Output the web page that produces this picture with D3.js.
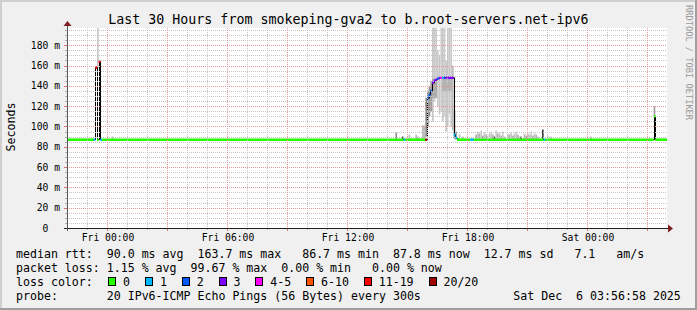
<!DOCTYPE html>
<html>
<head>
<meta charset="utf-8">
<script src="https://cdn.jsdelivr.net/npm/d3@7"></script>
<style>
  body { margin: 0; background: #f0f0f0; }
  svg text { font-family: "DejaVu Sans Mono", monospace; white-space: pre; }
</style>
</head>
<body>
<div id="chart"></div>
<script>
// Textos y valores
const title = "Last 30 Hours from smokeping-gva2 to b.root-servers.net-ipv6";
const yLabel = "Seconds";
const timeStart = "04 22:00";
const timeEnd = "06 04:00";
const yMax = 197;
const yTicks = [0, 20, 40, 60, 80, 100, 120, 140, 160, 180];

// mediana: [hora, ms, pings perdidos de 20]
const median = [
  ["04 22:00", 87, 0],
  ["04 23:20", 87, 1],
  ["04 23:25", 158, 12],
  ["04 23:30", 87, 0],
  ["04 23:35", 164, 12],
  ["04 23:40", 87, 1],
  ["04 23:45", 87, 0],
  ["05 14:50", 87, 1],
  ["05 14:55", 87, 0],
  ["05 15:55", 87, 20],
  ["05 16:00", 128, 2],
  ["05 16:05", 131, 2],
  ["05 16:10", 135, 2],
  ["05 16:15", 143, 3],
  ["05 16:20", 145, 3],
  ["05 16:25", 146, 3],
  ["05 16:30", 147, 2],
  ["05 16:35", 148, 3],
  ["05 16:40", 148, 5],
  ["05 16:45", 148, 1],
  ["05 16:50", 148, 2],
  ["05 16:55", 148, 3],
  ["05 17:20", 92, 1],
  ["05 17:25", 89, 1],
  ["05 17:30", 87, 0],
  ["05 18:10", 87, 1],
  ["05 18:20", 87, 0],
  ["05 21:50", 87, 1],
  ["05 21:55", 87, 0],
  ["06 03:20", 110, 0],
  ["06 03:25", 87, 0]
];

// humo: [desde, hasta, ms min, ms max, densidad]
const smoke = [
  ["04 23:30", "04 23:35", 158, 197, 0.15],
  ["05 00:15", "05 00:20", 87, 90, 0.2],
  ["05 14:25", "05 14:30", 87, 94, 0.45],
  ["05 14:45", "05 14:50", 87, 90, 0.9],
  ["05 15:05", "05 15:10", 87, 92, 0.25],
  ["05 15:25", "05 15:30", 87, 92, 0.2],
  ["05 15:30", "05 15:35", 87, 90, 0.3],
  ["05 15:45", "05 15:55", 87, 101, 0.2],
  ["05 15:55", "05 16:00", 90, 128, 0.5],
  ["05 16:00", "05 16:05", 100, 135, 0.55],
  ["05 16:05", "05 16:10", 110, 140, 0.45],
  ["05 16:10", "05 16:15", 115, 145, 0.4],
  ["05 16:15", "05 16:20", 105, 197, 0.15],
  ["05 16:20", "05 16:25", 125, 197, 0.15],
  ["05 16:25", "05 16:30", 128, 197, 0.12],
  ["05 16:30", "05 16:35", 120, 175, 0.12],
  ["05 16:35", "05 16:40", 112, 170, 0.15],
  ["05 16:40", "05 16:45", 115, 197, 0.1],
  ["05 16:45", "05 16:50", 105, 197, 0.15],
  ["05 16:50", "05 16:55", 110, 197, 0.12],
  ["05 16:55", "05 17:00", 95, 165, 0.15],
  ["05 17:00", "05 17:05", 100, 197, 0.12],
  ["05 17:05", "05 17:10", 112, 197, 0.15],
  ["05 17:10", "05 17:15", 100, 197, 0.12],
  ["05 17:15", "05 17:20", 96, 160, 0.2],
  ["05 16:15", "05 16:30", 128, 147, 0.3],
  ["05 16:45", "05 17:15", 135, 149, 0.25],
  ["05 17:20", "05 17:25", 88, 116, 0.45],
  ["05 17:25", "05 17:30", 87, 95, 0.35],
  ["05 17:35", "05 17:40", 87, 92, 0.2],
  ["05 17:45", "05 17:50", 87, 90, 0.25],
  ["05 18:25", "05 18:30", 87, 92, 0.3],
  ["05 18:30", "05 18:35", 87, 95, 0.15],
  ["05 18:35", "05 18:40", 87, 93, 0.3],
  ["05 18:40", "05 18:45", 87, 96, 0.12],
  ["05 18:45", "05 18:50", 87, 91, 0.35],
  ["05 18:50", "05 18:55", 87, 94, 0.15],
  ["05 18:55", "05 19:00", 87, 92, 0.25],
  ["05 19:05", "05 19:10", 87, 93, 0.2],
  ["05 19:10", "05 19:15", 87, 95, 0.12],
  ["05 19:15", "05 19:20", 87, 92, 0.3],
  ["05 19:20", "05 19:25", 87, 90, 0.9],
  ["05 19:25", "05 19:30", 87, 96, 0.12],
  ["05 19:30", "05 19:35", 87, 93, 0.25],
  ["05 19:35", "05 19:40", 87, 94, 0.15],
  ["05 19:40", "05 19:45", 87, 91, 0.3],
  ["05 19:45", "05 19:50", 87, 95, 0.12],
  ["05 19:50", "05 19:55", 87, 90, 0.25],
  ["05 20:00", "05 20:05", 87, 93, 0.15],
  ["05 20:05", "05 20:10", 87, 92, 0.3],
  ["05 20:10", "05 20:15", 87, 94, 0.15],
  ["05 20:15", "05 20:20", 87, 91, 0.25],
  ["05 20:20", "05 20:25", 87, 93, 0.2],
  ["05 20:25", "05 20:30", 87, 95, 0.12],
  ["05 20:30", "05 20:35", 87, 92, 0.3],
  ["05 20:35", "05 20:40", 87, 90, 0.2],
  ["05 20:40", "05 20:45", 87, 90, 0.9],
  ["05 20:50", "05 20:55", 87, 93, 0.2],
  ["05 20:55", "05 21:00", 87, 91, 0.3],
  ["05 21:00", "05 21:05", 87, 94, 0.12],
  ["05 21:05", "05 21:10", 87, 92, 0.25],
  ["05 21:10", "05 21:15", 87, 95, 0.12],
  ["05 21:15", "05 21:20", 87, 91, 0.3],
  ["05 21:20", "05 21:25", 87, 93, 0.15],
  ["05 21:25", "05 21:30", 87, 92, 0.25],
  ["05 21:30", "05 21:35", 87, 90, 0.2],
  ["05 21:45", "05 21:50", 87, 97, 0.9],
  ["05 22:00", "05 22:05", 87, 91, 0.15],
  ["05 22:10", "05 22:15", 87, 90, 0.2],
  ["06 00:10", "06 00:15", 87, 90, 0.3],
  ["06 03:20", "06 03:25", 110, 120, 0.35]
];

// colores de perdida
const lossLabels = ["0", "1", "2", "3", "4-5", "6-10", "11-19", "20/20"];
const lossColors = ["#26ff00", "#00b8ff", "#0059ff", "#7e00ff", "#ff00ff", "#ff5500", "#ff0000", "#a10000"];
const lossBreaks = [1, 2, 3, 4, 6, 11, 20];

// lineas de leyenda
const legendRtt = "median rtt:  90.0 ms avg  163.7 ms max   86.7 ms min  87.8 ms now  12.7 ms sd   7.1   am/s";
const legendLoss = "packet loss: 1.15 % avg  99.67 % max  0.00 % min   0.00 % now";
const legendLossTitle = "loss color:";
const legendProbe = "probe:       20 IPv6-ICMP Echo Pings (56 Bytes) every 300s";
const legendDate = "Sat Dec  6 03:56:58 2025";
const watermark = "RRDTOOL / TOBI OETIKER";

// Dimensiones
const W = 697, H = 310;
const plotLeft = 67, plotTop = 28, plotW = 600, plotH = 200;
const legendFont = 11.6, axisFont = 9.7, titleFont = 13.3;
const charW = legendFont * 0.602, axisCharW = axisFont * 0.602;

const parse = s => d3.timeParse("%Y-%m-%d %H:%M")("2025-12-" + s);

const x = d3.scaleTime()
  .domain([parse(timeStart), parse(timeEnd)])
  .range([plotLeft, plotLeft + plotW]);
const y = d3.scaleLinear()
  .domain([0, yMax])
  .range([plotTop + plotH, plotTop]);
const lossColor = d3.scaleThreshold().domain(lossBreaks).range(lossColors);
const smokeColor = d3.scaleLinear().domain([0, 1]).range(["#e2e2e2", "#2a2a2a"]);

const svg = d3.select("#chart").append("svg")
  .attr("width", W).attr("height", H);

// Fondo y marco
svg.append("rect").attr("width", W).attr("height", H).attr("fill", "#f0f0f0");
svg.append("path").attr("d", `M0,${H} V0 H${W}`).attr("fill", "none")
   .attr("stroke", "#cfcfcf").attr("stroke-width", 4);
svg.append("path").attr("d", `M0,${H} H${W} V0`).attr("fill", "none")
   .attr("stroke", "#9e9e9e").attr("stroke-width", 4);

svg.append("rect")
   .attr("x", plotLeft).attr("y", plotTop).attr("width", plotW).attr("height", plotH)
   .attr("fill", "#ffffff");

svg.append("clipPath").attr("id", "plot")
   .append("rect").attr("x", plotLeft).attr("y", plotTop).attr("width", plotW).attr("height", plotH);

const plot = svg.append("g").attr("clip-path", "url(#plot)");

// Humo
plot.selectAll("rect.smoke")
  .data(smoke)
  .enter()
  .append("rect")
  .attr("class", "smoke")
  .attr("x", d => x(parse(d[0])))
  .attr("width", d => x(parse(d[1])) - x(parse(d[0])))
  .attr("y", d => y(d[3]))
  .attr("height", d => y(d[2]) - y(d[3]))
  .attr("fill", d => smokeColor(d[4]));

// Rejilla
const crisp = v => Math.round(v) + 0.5;
const minorY = d3.range(5, yMax, 5).filter(v => v % 20 !== 0);
const majorY = yTicks.filter(v => v > 0);
const minorX = d3.timeHour.every(1).range(...x.domain()).filter(d => d.getHours() % 3 !== 0);
const majorX = d3.timeHour.every(3).range(...x.domain());
const gridMinor = "#c4c4c4", gridMajor = "#e29a9a";

const grid = svg.append("g").attr("stroke-dasharray", "1,1").attr("stroke-width", 1);
grid.selectAll("line.hy").data(minorY).enter().append("line")
    .attr("x1", plotLeft).attr("x2", plotLeft + plotW)
    .attr("y1", d => crisp(y(d))).attr("y2", d => crisp(y(d)))
    .attr("stroke", gridMinor);
grid.selectAll("line.vx").data(minorX).enter().append("line")
    .attr("y1", plotTop).attr("y2", plotTop + plotH)
    .attr("x1", d => crisp(x(d))).attr("x2", d => crisp(x(d)))
    .attr("stroke", gridMinor);
grid.selectAll("line.my").data(majorY).enter().append("line")
    .attr("x1", plotLeft).attr("x2", plotLeft + plotW)
    .attr("y1", d => crisp(y(d))).attr("y2", d => crisp(y(d)))
    .attr("stroke", gridMajor);
grid.selectAll("line.mx").data(majorX).enter().append("line")
    .attr("y1", plotTop).attr("y2", plotTop + plotH)
    .attr("x1", d => crisp(x(d))).attr("x2", d => crisp(x(d)))
    .attr("stroke", gridMajor);

// Ticks de los ejes
const ticks = svg.append("g").attr("stroke-width", 1);
ticks.selectAll("line.tx").data(minorX).enter().append("line")
     .attr("x1", d => crisp(x(d))).attr("x2", d => crisp(x(d)))
     .attr("y1", plotTop + plotH).attr("y2", plotTop + plotH + 2).attr("stroke", "#b0b0b0");
ticks.selectAll("line.tmx").data(majorX).enter().append("line")
     .attr("x1", d => crisp(x(d))).attr("x2", d => crisp(x(d)))
     .attr("y1", plotTop + plotH).attr("y2", plotTop + plotH + 3).attr("stroke", "#e07070");
ticks.selectAll("line.ty").data(minorY).enter().append("line")
     .attr("x1", plotLeft - 2).attr("x2", plotLeft)
     .attr("y1", d => crisp(y(d))).attr("y2", d => crisp(y(d))).attr("stroke", "#b0b0b0");
ticks.selectAll("line.tmy").data(majorY).enter().append("line")
     .attr("x1", plotLeft - 3).attr("x2", plotLeft)
     .attr("y1", d => crisp(y(d))).attr("y2", d => crisp(y(d))).attr("stroke", "#e07070");

// Mediana
const med = median.map(([t, v, l]) => ({ t: parse(t), v: v, l: l }));
const endT = parse(timeEnd);
const medLine = med.concat([{ t: endT, v: med[med.length - 1].v }]);

plot.append("path")
    .datum(medLine)
    .attr("fill", "none")
    .attr("stroke", "#000")
    .attr("stroke-width", 1)
    .attr("d", d3.line().x(d => crisp(x(d.t))).y(d => y(d.v)).curve(d3.curveStepAfter));

plot.selectAll("line.loss")
    .data(med)
    .enter()
    .append("line")
    .attr("class", "loss")
    .attr("x1", d => x(d.t))
    .attr("x2", (d, i) => x(i + 1 < med.length ? med[i + 1].t : endT))
    .attr("y1", d => y(d.v))
    .attr("y2", d => y(d.v))
    .attr("stroke", d => lossColor(d.l))
    .attr("stroke-width", 2.6);

// Ejes
svg.append("line")
   .attr("x1", plotLeft - 3).attr("x2", plotLeft + plotW + 2)
   .attr("y1", plotTop + plotH + 0.5).attr("y2", plotTop + plotH + 0.5)
   .attr("stroke", "#1f1f1f");
svg.append("line")
   .attr("x1", plotLeft + 0.5).attr("x2", plotLeft + 0.5)
   .attr("y1", plotTop + plotH + 3).attr("y2", plotTop - 3)
   .attr("stroke", "#555");
svg.append("path")
   .attr("d", `M${plotLeft + plotW + 1},${plotTop + plotH - 3.5} L${plotLeft + plotW + 6},${plotTop + plotH + 0.5} L${plotLeft + plotW + 1},${plotTop + plotH + 4.5} Z`)
   .attr("fill", "#7f1f1f");
svg.append("path")
   .attr("d", `M${plotLeft - 3.5},${plotTop - 2} L${plotLeft + 0.5},${plotTop - 7} L${plotLeft + 4.5},${plotTop - 2} Z`)
   .attr("fill", "#7f1f1f");

// Etiquetas del eje Y
const yl = svg.append("g").attr("font-size", axisFont).attr("fill", "#000");
yl.selectAll("text.n").data(yTicks).enter().append("text")
  .attr("x", 60 - 2 * axisCharW)
  .attr("y", d => y(d) + 3.5)
  .attr("text-anchor", "end")
  .text(d => d);
yl.selectAll("text.u").data(yTicks.filter(d => d > 0)).enter().append("text")
  .attr("x", 60 - axisCharW)
  .attr("y", d => y(d) + 3.5)
  .text("m");

// Etiquetas del eje X
svg.append("g").attr("font-size", axisFont)
  .selectAll("text")
  .data(d3.timeHour.every(6).range(...x.domain()))
  .enter()
  .append("text")
  .attr("x", d => x(d) + 1)
  .attr("y", 241)
  .attr("text-anchor", "middle")
  .text(d => d3.timeFormat("%a %H:%M")(d));

// Titulos
svg.append("text")
   .attr("x", 108.3).attr("y", 24)
   .attr("font-size", titleFont)
   .text(title);
svg.append("text")
   .attr("transform", "translate(15,127) rotate(-90)")
   .attr("text-anchor", "middle")
   .attr("font-size", legendFont)
   .text(yLabel);
svg.append("text")
   .attr("transform", "translate(685.5,5) rotate(90)")
   .attr("font-size", 8.7)
   .attr("fill", "#999")
   .text(watermark);

// Leyenda
const leg = svg.append("g").attr("font-size", legendFont).attr("fill", "#000");
leg.append("text").attr("x", 16).attr("y", 258).text(legendRtt);
leg.append("text").attr("x", 16).attr("y", 272).text(legendLoss);
leg.append("text").attr("x", 16).attr("y", 286).text(legendLossTitle);
leg.append("text").attr("x", 16).attr("y", 300).text(legendProbe);
leg.append("text").attr("x", 513.3).attr("y", 300).text(legendDate);

let lx = 108.3;
lossLabels.forEach((lab, i) => {
  leg.append("rect")
     .attr("x", Math.round(lx) + 0.5).attr("y", 277.5)
     .attr("width", 7).attr("height", 8)
     .attr("fill", lossColors[i]).attr("stroke", "#000");
  leg.append("text").attr("x", lx + 14.8).attr("y", 286).text(lab);
  lx += 14.8 + lab.length * charW + 15.0;
});
</script>
</body>
</html>
